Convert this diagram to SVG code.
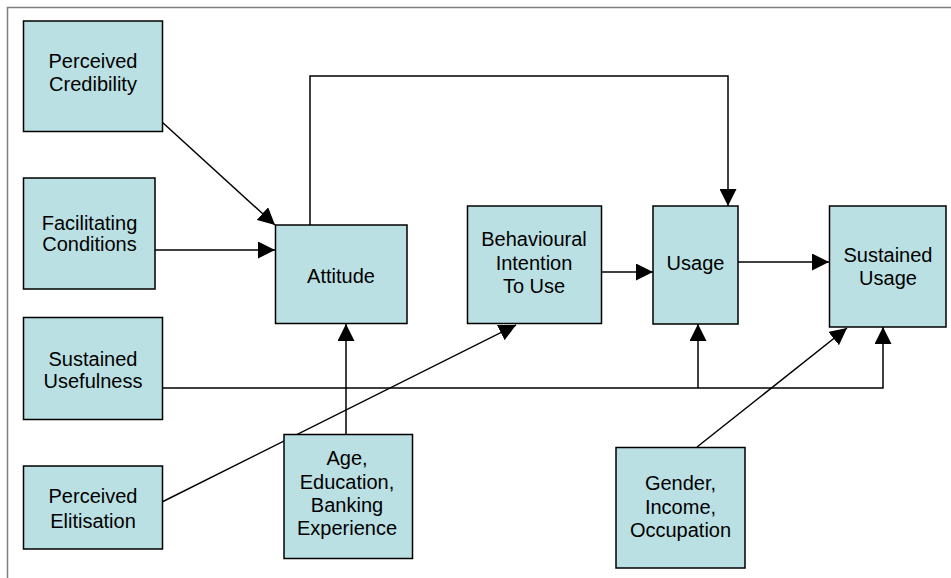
<svg xmlns="http://www.w3.org/2000/svg" width="951" height="578" viewBox="0 0 951 578">
<style>
.box{fill:#BBE0E3;stroke:#000;stroke-width:1.5}
.lbl{font-family:"Liberation Sans",Arial,sans-serif;font-size:20px;fill:#000;text-anchor:middle}
.con{fill:none;stroke:#000;stroke-width:1.5}
</style>
<defs>
<marker id="ah" viewBox="0 0 17 17" refX="17" refY="8.5" markerWidth="17" markerHeight="17" markerUnits="userSpaceOnUse" orient="auto">
<path d="M0,0 L17,8.5 L0,17 z" fill="#000"/>
</marker>
</defs>
<rect x="0" y="0" width="951" height="578" fill="#fff"/>
<rect x="7.5" y="7.5" width="960" height="600" fill="#fff" stroke="#808080" stroke-width="1.5"/>
<g id="connectors">
<line class="con" x1="162" y1="122" x2="275" y2="225" marker-end="url(#ah)"/>
<line class="con" x1="155" y1="250" x2="275" y2="250" marker-end="url(#ah)"/>
<path class="con" d="M310,225 V76 H728 V206" marker-end="url(#ah)"/>
<line class="con" x1="601" y1="272" x2="653" y2="272" marker-end="url(#ah)"/>
<line class="con" x1="738" y1="262" x2="829" y2="262" marker-end="url(#ah)"/>
<path class="con" d="M162,388 H883 V327" marker-end="url(#ah)"/>
<line class="con" x1="698" y1="388" x2="698" y2="324" marker-end="url(#ah)"/>
<line class="con" x1="162" y1="502" x2="516" y2="325" marker-end="url(#ah)"/>
<line class="con" x1="346" y1="434" x2="346" y2="324" marker-end="url(#ah)"/>
<line class="con" x1="697" y1="447" x2="847" y2="328" marker-end="url(#ah)"/>
</g>
<g id="perceived-credibility">
<rect class="box" x="23.5" y="21" width="139" height="110.5"/>
<text class="lbl" x="93" y="67.5">Perceived</text>
<text class="lbl" x="93" y="90.5">Credibility</text>
</g>
<g id="facilitating-conditions">
<rect class="box" x="23.5" y="178" width="131.5" height="111"/>
<text class="lbl" x="89.5" y="229.5">Facilitating</text>
<text class="lbl" x="89.5" y="250.5">Conditions</text>
</g>
<g id="attitude">
<rect class="box" x="275.5" y="225" width="131.5" height="98.5"/>
<text class="lbl" x="341" y="282.5">Attitude</text>
</g>
<g id="behavioural-intention">
<rect class="box" x="467.5" y="206" width="134" height="117.5"/>
<text class="lbl" x="534" y="246">Behavioural</text>
<text class="lbl" x="534" y="269.5">Intention</text>
<text class="lbl" x="534" y="292.5">To Use</text>
</g>
<g id="usage">
<rect class="box" x="653" y="206" width="85" height="118"/>
<text class="lbl" x="695.5" y="270">Usage</text>
</g>
<g id="sustained-usage">
<rect class="box" x="829.5" y="206" width="116.5" height="121"/>
<text class="lbl" x="888" y="261.5">Sustained</text>
<text class="lbl" x="888" y="284.5">Usage</text>
</g>
<g id="sustained-usefulness">
<rect class="box" x="23.5" y="317.5" width="139" height="102"/>
<text class="lbl" x="93" y="366">Sustained</text>
<text class="lbl" x="93" y="388">Usefulness</text>
</g>
<g id="perceived-elitisation">
<rect class="box" x="23.5" y="466" width="139" height="83"/>
<text class="lbl" x="93" y="503">Perceived</text>
<text class="lbl" x="93" y="527.5">Elitisation</text>
</g>
<g id="age-education">
<rect class="box" x="284" y="434.5" width="128.5" height="124"/>
<text class="lbl" x="347" y="465">Age,</text>
<text class="lbl" x="347" y="488.5">Education,</text>
<text class="lbl" x="347" y="511.5">Banking</text>
<text class="lbl" x="347" y="535">Experience</text>
</g>
<g id="gender-income">
<rect class="box" x="616" y="447.5" width="129" height="120.5"/>
<text class="lbl" x="680.5" y="490">Gender,</text>
<text class="lbl" x="680.5" y="513.5">Income,</text>
<text class="lbl" x="680.5" y="537">Occupation</text>
</g>
</svg>
